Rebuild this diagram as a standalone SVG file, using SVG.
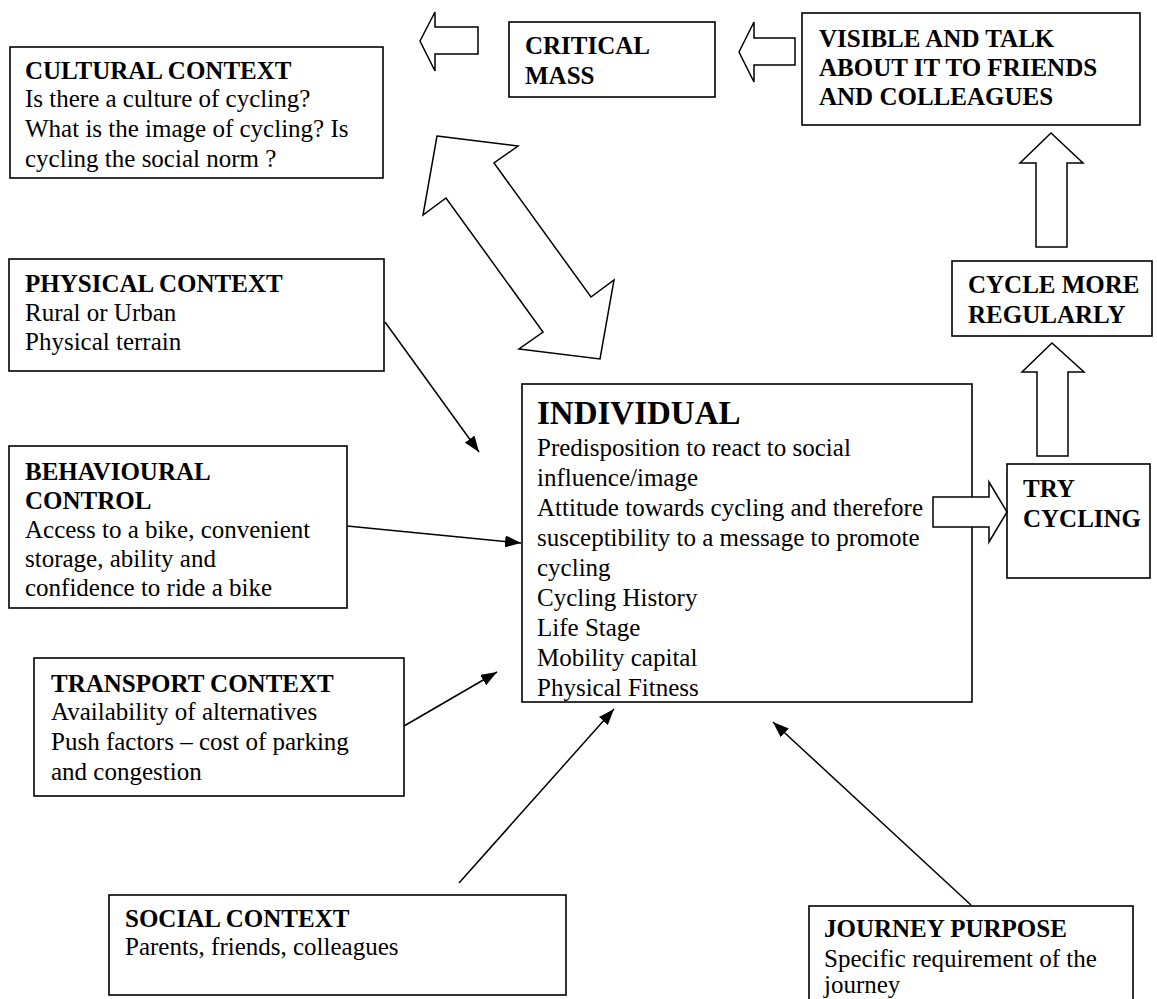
<svg xmlns="http://www.w3.org/2000/svg" width="1157" height="999" viewBox="0 0 1157 999">
<defs>
<style>
.box{fill:#fff;stroke:#000;stroke-width:1.6}
.blk{fill:#fff;stroke:#000;stroke-width:1.5;stroke-linejoin:miter}
.t{font-family:"Liberation Serif","Times New Roman",serif;font-size:25px;fill:#000}
.b{font-weight:bold}
.h{font-family:"Liberation Serif","Times New Roman",serif;font-size:33px;font-weight:bold;fill:#000}
.con{fill:none;stroke:#000;stroke-width:1.5}
</style>
<marker id="ah" viewBox="0 0 16 12" refX="16" refY="6" markerWidth="16" markerHeight="12" markerUnits="userSpaceOnUse" orient="auto">
<path d="M0,0 L16,6 L0,12 Z" fill="#000"/>
</marker>
</defs>
<rect width="1157" height="999" fill="#fff"/>

<g id="connectors">
<line class="con" x1="385" y1="322" x2="479" y2="452" marker-end="url(#ah)"/>
<line class="con" x1="347" y1="526" x2="521" y2="543" marker-end="url(#ah)"/>
<line class="con" x1="404" y1="726" x2="497" y2="672" marker-end="url(#ah)"/>
<line class="con" x1="459" y1="883" x2="614" y2="709" marker-end="url(#ah)"/>
<line class="con" x1="971" y1="905" x2="773" y2="722" marker-end="url(#ah)"/>
</g>

<g id="cultural">
<rect class="box" x="10" y="47" width="373" height="131"/>
<text class="t b" x="25" y="79">CULTURAL CONTEXT</text>
<text class="t" x="25" y="107">Is there a culture of cycling?</text>
<text class="t" x="25" y="137">What is the image of cycling? Is</text>
<text class="t" x="25" y="167">cycling the social norm ?</text>
</g>

<g id="physical">
<rect class="box" x="9" y="259" width="375" height="112"/>
<text class="t b" x="25" y="292">PHYSICAL CONTEXT</text>
<text class="t" x="25" y="321">Rural or Urban</text>
<text class="t" x="25" y="350">Physical terrain</text>
</g>

<g id="behavioural">
<rect class="box" x="9" y="446" width="338" height="162"/>
<text class="t b" x="25" y="480">BEHAVIOURAL</text>
<text class="t b" x="25" y="509">CONTROL</text>
<text class="t" x="25" y="538">Access to a bike, convenient</text>
<text class="t" x="25" y="567">storage, ability and</text>
<text class="t" x="25" y="596">confidence to ride a bike</text>
</g>

<g id="transport">
<rect class="box" x="34" y="658" width="370" height="138"/>
<text class="t b" x="51" y="692">TRANSPORT CONTEXT</text>
<text class="t" x="51" y="720">Availability of alternatives</text>
<text class="t" x="51" y="750">Push factors – cost of parking</text>
<text class="t" x="51" y="780">and congestion</text>
</g>

<g id="social">
<rect class="box" x="109" y="895" width="457" height="100"/>
<text class="t b" x="125" y="927">SOCIAL CONTEXT</text>
<text class="t" x="125" y="955">Parents, friends, colleagues</text>
</g>

<g id="journey">
<rect class="box" x="809" y="906" width="324" height="110"/>
<text class="t b" x="824" y="937">JOURNEY PURPOSE</text>
<text class="t" x="824" y="967">Specific requirement of the</text>
<text class="t" x="824" y="993">journey</text>
</g>

<g id="individual">
<rect class="box" x="522" y="384" width="450" height="318"/>
<text class="h" x="537" y="424">INDIVIDUAL</text>
<text class="t" x="537" y="456">Predisposition to react to social</text>
<text class="t" x="537" y="486">influence/image</text>
<text class="t" x="537" y="516">Attitude towards cycling and therefore</text>
<text class="t" x="537" y="546">susceptibility to a message to promote</text>
<text class="t" x="537" y="576">cycling</text>
<text class="t" x="537" y="606">Cycling History</text>
<text class="t" x="537" y="636">Life Stage</text>
<text class="t" x="537" y="666">Mobility capital</text>
<text class="t" x="537" y="696">Physical Fitness</text>
</g>

<g id="critical-mass">
<rect class="box" x="509" y="22" width="206" height="75"/>
<text class="t b" x="525" y="54">CRITICAL</text>
<text class="t b" x="525" y="84">MASS</text>
</g>

<g id="visible">
<rect class="box" x="802" y="13" width="338" height="112"/>
<text class="t b" x="819" y="47">VISIBLE AND TALK</text>
<text class="t b" x="819" y="76">ABOUT IT TO FRIENDS</text>
<text class="t b" x="819" y="105">AND COLLEAGUES</text>
</g>

<g id="cycle-more">
<rect class="box" x="952" y="261" width="200" height="75"/>
<text class="t b" x="968" y="293">CYCLE MORE</text>
<text class="t b" x="968" y="323">REGULARLY</text>
</g>

<g id="try-cycling">
<rect class="box" x="1007" y="464" width="143" height="114"/>
<text class="t b" x="1023" y="497">TRY</text>
<text class="t b" x="1023" y="527">CYCLING</text>
</g>

<g id="block-arrows">
<polygon class="blk" points="420,41 435,12 435,27 478,27 478,54 435,54 435,71"/>
<polygon class="blk" points="739,52 754,22 754,38 795,38 795,65 754,65 754,82"/>
<polygon class="blk" points="437,136 518,146 494,163 591,297 614,280 600,359 519,349 543,332 446,198 423,215"/>
<polygon class="blk" points="1051,133 1083,163 1067,163 1067,247 1036,247 1036,163 1020,163"/>
<polygon class="blk" points="1052,343 1084,372 1068,372 1068,456 1037,456 1037,372 1022,372"/>
<polygon class="blk" points="1007,512 989,482 989,497 933,497 933,527 989,527 989,542"/>
</g>
</svg>
